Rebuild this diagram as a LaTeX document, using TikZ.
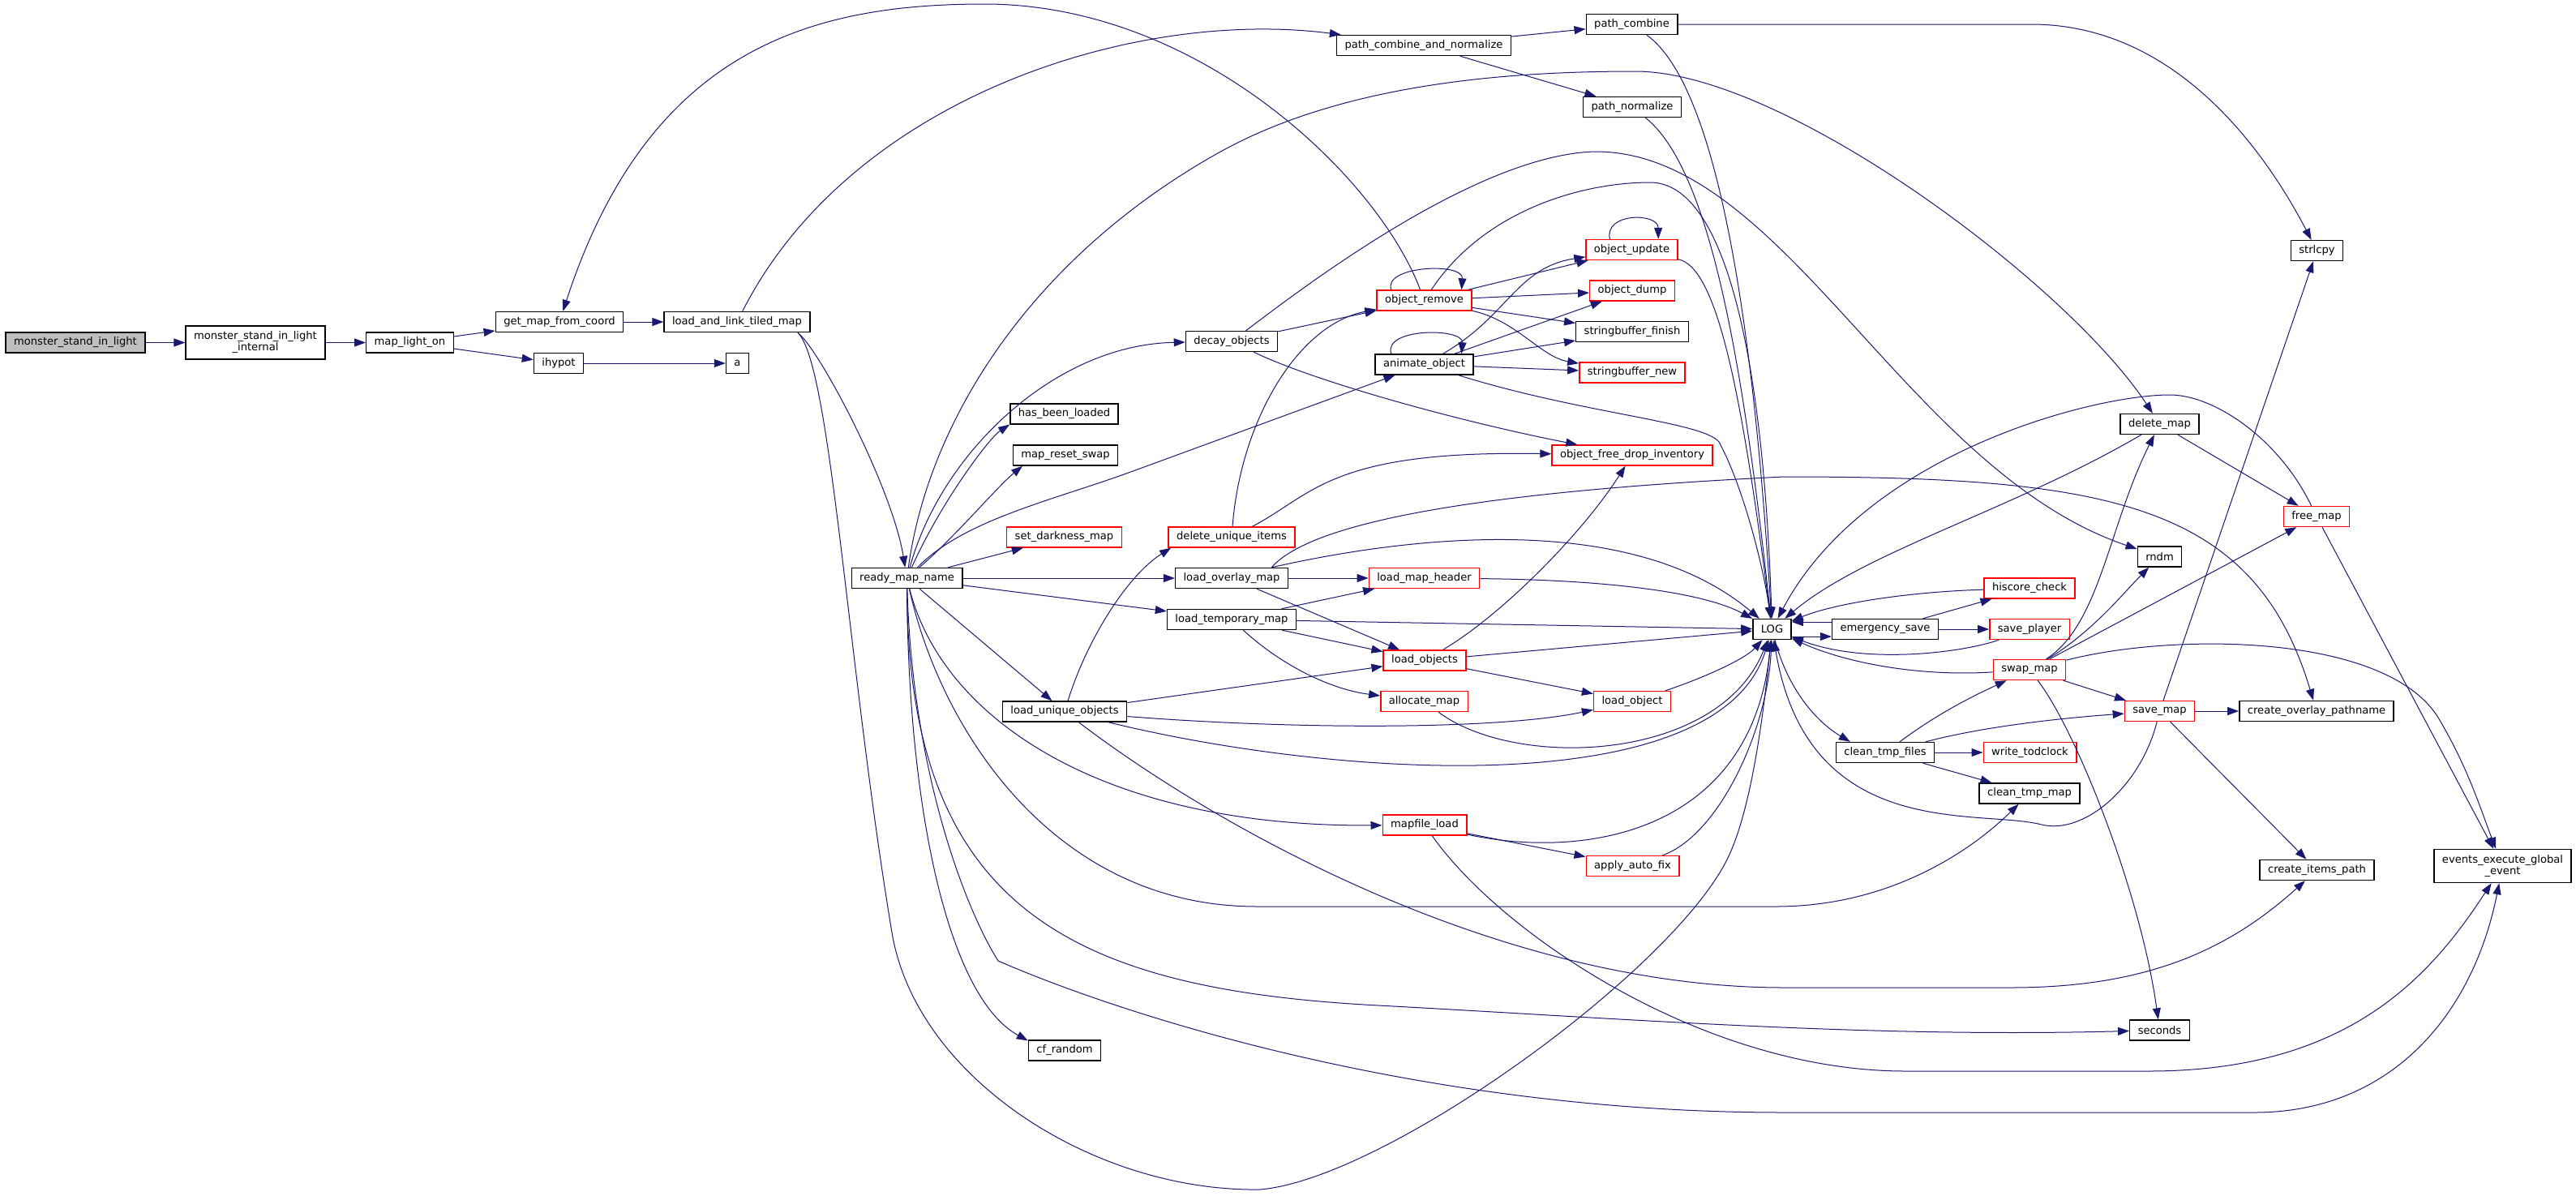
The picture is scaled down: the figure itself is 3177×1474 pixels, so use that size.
\documentclass[tikz,border=0pt]{standalone}
\usepackage{fontspec}
\setmainfont{DejaVu Sans}
\usepackage{tikz}
\usetikzlibrary{arrows.meta}
\definecolor{edgeblue}{HTML}{191970}
\definecolor{rootgray}{HTML}{BFBFBF}
\newcommand{\cgfont}{\fontsize{6.55}{7}\selectfont}
\tikzset{
  cgbox/.style={draw=black,line width=0.7pt,fill=white,rectangle,font=\cgfont,inner xsep=5pt,inner ysep=1.5pt,minimum height=12.5pt,align=center},
  cgred/.style={cgbox,draw=red},
  cgroot/.style={cgbox,fill=rootgray},
  call/.style={draw=edgeblue,line width=0.5pt,-{Triangle[length=7pt,width=5pt]}}
}
\newcommand{\cgnode}[4]{\node[#1] (#2) at (#3) {#4};}

\begin{document}
\begin{tikzpicture}[x=0.5pt,y=-0.5pt]
    \path[use as bounding box,fill=white] (0,0) rectangle (3177,1474);

    \cgnode{cgroot}{msl}{93,422.5}{monster\_stand\_in\_light}
    \cgnode{cgbox,minimum height=20.5pt}{msli}{315,422.5}{monster\_stand\_in\_light\\\_internal}
    \cgnode{cgbox}{mlo}{505.5,422.5}{map\_light\_on}
    \cgnode{cgbox}{gmfc}{690,397}{get\_map\_from\_coord}
    \cgnode{cgbox}{ihypot}{689,448}{ihypot}
    \cgnode{cgbox}{lltm}{909,397}{load\_and\_link\_tiled\_map}
    \cgnode{cgbox}{a}{909.5,448}{a}
    \cgnode{cgbox}{rmn}{1118.5,713}{ready\_map\_name}
    \cgnode{cgbox}{hbl}{1312.5,510.5}{has\_been\_loaded}
    \cgnode{cgbox}{mrs}{1314,561.5}{map\_reset\_swap}
    \cgnode{cgred}{sdm}{1312.5,662.5}{set\_darkness\_map}
    \cgnode{cgbox}{luo}{1313,877.5}{load\_unique\_objects}
    \cgnode{cgbox}{cfr}{1313,1295.5}{cf\_random}
    \cgnode{cgbox}{dec}{1519,421}{decay\_objects}
    \cgnode{cgred}{dui}{1519,662.5}{delete\_unique\_items}
    \cgnode{cgbox}{lom}{1519,713}{load\_overlay\_map}
    \cgnode{cgbox}{ltm}{1519,764}{load\_temporary\_map}
    \cgnode{cgbox}{pcan}{1756,56}{path\_combine\_and\_normalize}
    \cgnode{cgred}{orm}{1756.5,370.5}{object\_remove}
    \cgnode{cgbox}{ao}{1756.5,449.5}{animate\_object}
    \cgnode{cgred}{lmh}{1756.5,713}{load\_map\_header}
    \cgnode{cgred}{lobjs}{1757,814.5}{load\_objects}
    \cgnode{cgred}{am}{1756.5,865}{allocate\_map}
    \cgnode{cgred}{mfl}{1757,1017.5}{mapfile\_load}
    \cgnode{cgbox}{pc}{2012.5,30}{path\_combine}
    \cgnode{cgbox}{pn}{2013,132}{path\_normalize}
    \cgnode{cgred}{ou}{2012.5,308}{object\_update}
    \cgnode{cgred}{od}{2013,358.5}{object\_dump}
    \cgnode{cgbox}{sbf}{2013,409}{stringbuffer\_finish}
    \cgnode{cgred}{sbn}{2013,459.5}{stringbuffer\_new}
    \cgnode{cgred}{ofdi}{2013,561.5}{object\_free\_drop\_inventory}
    \cgnode{cgred}{lobj}{2013,865}{load\_object}
    \cgnode{cgred}{aaf}{2013.5,1068}{apply\_auto\_fix}
    \cgnode{cgbox}{lg}{2185.5,776}{LOG}
    \cgnode{cgbox}{es}{2325,776}{emergency\_save}
    \cgnode{cgbox}{ctf}{2325,928}{clean\_tmp\_files}
    \cgnode{cgred}{hc}{2503,725.5}{hiscore\_check}
    \cgnode{cgred}{sp}{2503,776}{save\_player}
    \cgnode{cgred}{sm}{2503,826}{swap\_map}
    \cgnode{cgred}{wt}{2503.5,928}{write\_todclock}
    \cgnode{cgbox}{ctm}{2503,978.5}{clean\_tmp\_map}
    \cgnode{cgbox}{dm}{2663.5,523}{delete\_map}
    \cgnode{cgbox}{rndm}{2663.5,686.5}{rndm}
    \cgnode{cgred}{svm}{2663.5,877}{save\_map}
    \cgnode{cgbox}{sec}{2663.5,1270.5}{seconds}
    \cgnode{cgbox}{strlcpy}{2857.5,309}{strlcpy}
    \cgnode{cgred}{fm}{2857,637}{free\_map}
    \cgnode{cgbox}{cop}{2857,877}{create\_overlay\_pathname}
    \cgnode{cgbox}{cip}{2857.5,1073}{create\_items\_path}
    \cgnode{cgbox,minimum height=20.5pt}{eeg}{3086.5,1068}{events\_execute\_global\\\_event}

    \draw[call] (msl) -- (msli);
    \draw[call] (msli) -- (mlo);
    \draw[call] (mlo) -- (gmfc);
    \draw[call] (mlo) -- (ihypot);
    \draw[call] (ihypot) -- (a);
    \draw[call] (gmfc) -- (lltm);
    \draw[call] (lltm) .. controls (1050,120) and (1400,10) .. (pcan);
    \draw[call] (lltm.350) .. controls (1010,430) and (1100,600) .. (rmn);
    \draw[call] (lltm.350) .. controls (1025,450) and (1045,820) .. (1100,1150) .. controls (1130,1330) and (1350,1470) .. (1554,1467) .. controls (1708,1454) and (2060,1200) .. (2130,1060) .. controls (2160,1000) and (2175,880) .. (lg);
    \draw[call] (orm) .. controls (1700,220) and (1480,5) .. (1214,5) .. controls (1000,5) and (800,60) .. (gmfc);

    \draw[call] (rmn) .. controls (1160,560) and (1300,425) .. (dec);
    \draw[call] (rmn) .. controls (1160,620) and (1220,540) .. (hbl.191);
    \draw[call] (rmn) .. controls (1180,660) and (1230,600) .. (mrs.194);
    \draw[call] (rmn) -- (sdm);
    \draw[call] (rmn) -- (lom);
    \draw[call] (rmn) -- (ltm);
    \draw[call] (rmn) -- (luo);
    \draw[call] (rmn) .. controls (1190,640) and (1300,617) .. (1400,580) -- (ao);
    \draw[call] (rmn) .. controls (1145,520) and (1270,320) .. (1500,190) .. controls (1650,105) and (1850,88) .. (2017,88) .. controls (2200,88) and (2550,350) .. (dm);
    \draw[call] (rmn) .. controls (1120,1000) and (1170,1230) .. (cfr.165);
    \draw[call] (rmn) .. controls (1125,950) and (1190,1120) .. (1231,1185) .. controls (1380,1250) and (1750,1372) .. (2200,1372) -- (2780,1372) .. controls (2950,1372) and (3050,1250) .. (eeg);
    \draw[call] (rmn) .. controls (1120,1120) and (1320,1220) .. (1700,1240) .. controls (2000,1256) and (2300,1280) .. (sec);
    \draw[call] (rmn) .. controls (1160,900) and (1300,1118) .. (1550,1118) -- (2190,1118) .. controls (2330,1118) and (2430,1050) .. (ctm);
    \draw[call] (rmn) .. controls (1160,880) and (1350,1020) .. (mfl);

    \draw[call] (dec) -- (orm);
    \draw[call] (dec) .. controls (1620,470) and (1800,520) .. (ofdi);
    \draw[call] (dec) .. controls (1600,360) and (1820,190) .. (1968,187) .. controls (2200,187) and (2350,580) .. (rndm);

    \draw[call] (orm.162) .. controls (1705,328) and (1805,323) .. (orm.16);
    \draw[call] (orm) -- (ou);
    \draw[call] (orm) -- (od);
    \draw[call] (orm) -- (sbf);
    \draw[call] (orm) .. controls (1870,395) and (1900,440) .. (sbn);
    \draw[call] (orm) .. controls (1830,260) and (1950,225) .. (2035,225) .. controls (2130,225) and (2175,450) .. (lg);

    \draw[call] (ao.162) .. controls (1705,404) and (1805,404) .. (ao.16);
    \draw[call] (ao) .. controls (1860,390) and (1870,330) .. (ou);
    \draw[call] (ao) -- (od);
    \draw[call] (ao) -- (sbf);
    \draw[call] (ao) -- (sbn);
    \draw[call] (ao) .. controls (1950,510) and (2100,520) .. (2120,545) .. controls (2150,600) and (2175,700) .. (lg);

    \draw[call] (ou.154) .. controls (1978,262) and (2045,262) .. (ou.22);
    \draw[call] (ou) .. controls (2120,330) and (2150,500) .. (lg);

    \draw[call] (pcan) -- (pc);
    \draw[call] (pcan) -- (pn);
    \draw[call] (pc.east) -- (2505,30) .. controls (2680,30) and (2790,180) .. (strlcpy);
    \draw[call] (pc) .. controls (2110,100) and (2160,350) .. (lg);
    \draw[call] (pn) .. controls (2110,210) and (2150,450) .. (lg);

    \draw[call] (dui) .. controls (1530,520) and (1600,400) .. (orm);
    \draw[call] (dui) .. controls (1620,610) and (1640,555) .. (ofdi);

    \draw[call] (lom) -- (lmh);
    \draw[call] (lom) -- (lobjs);
    \draw[call] (lom.15) .. controls (1700,670) and (2000,620) .. (lg);
    \draw[call] (lom.15) .. controls (1620,640) and (1850,605) .. (2200,588) .. controls (2600,588) and (2780,620) .. (cop);
    \draw[call] (lmh) .. controls (1980,715) and (2100,730) .. (lg);

    \draw[call] (ltm) -- (lmh);
    \draw[call] (ltm) -- (lobjs);
    \draw[call] (ltm) .. controls (1580,820) and (1640,850) .. (am);
    \draw[call] (ltm) -- (lg);

    \draw[call] (lobjs) .. controls (1850,760) and (1950,660) .. (ofdi);
    \draw[call] (lobjs) -- (lg);
    \draw[call] (lobjs) -- (lobj);
    \draw[call] (lobj) .. controls (2090,840) and (2150,815) .. (lg);
    \draw[call] (am) .. controls (1870,950) and (2120,940) .. (lg);

    \draw[call] (luo) -- (lobjs);
    \draw[call] (luo) .. controls (1600,900) and (1850,900) .. (lobj);
    \draw[call] (luo) .. controls (1340,790) and (1390,710) .. (dui.190);
    \draw[call] (luo) .. controls (1650,960) and (2120,990) .. (lg);
    \draw[call] (luo) .. controls (1500,1020) and (1850,1218) .. (2200,1218) -- (2480,1218) .. controls (2650,1218) and (2750,1170) .. (cip);

    \draw[call] (mfl) -- (aaf);
    \draw[call] (mfl) .. controls (1950,1060) and (2160,1030) .. (lg);
    \draw[call] (aaf) .. controls (2120,1030) and (2180,900) .. (lg);
    \draw[call] (mfl) .. controls (1850,1150) and (2100,1321) .. (2350,1321) -- (2650,1321) .. controls (2900,1321) and (3000,1200) .. (eeg);

    \draw[call] ([yshift=4.5pt]es.west) -- ([yshift=4.5pt]lg.east);
    \draw[call] ([yshift=-4.5pt]lg.east) -- ([yshift=-4.5pt]es.west);
    \draw[call] (es) -- (hc);
    \draw[call] (es) -- (sp);
    \draw[call] (hc) .. controls (2350,730) and (2260,745) .. (lg);
    \draw[call] (sp) .. controls (2420,805) and (2300,820) .. (lg);
    \draw[call] (lg) .. controls (2205,850) and (2240,890) .. (ctf.163);
    \draw[call] (ctf) .. controls (2390,880) and (2430,860) .. (sm);
    \draw[call] (ctf) .. controls (2450,895) and (2550,885) .. (svm);
    \draw[call] (ctf) -- (wt);
    \draw[call] (ctf) -- (ctm);

    \draw[call] (dm) .. controls (2480,630) and (2300,680) .. (lg);
    \draw[call] (dm) -- (fm);
    \draw[call] (fm) .. controls (2810,540) and (2730,487) .. (2676,487) .. controls (2580,487) and (2300,560) .. (lg);
    \draw[call] (fm) -- (eeg);

    \draw[call] (sm) .. controls (2680,780) and (2950,780) .. (3010,890) .. controls (3045,950) and (3060,1000) .. (eeg);
    \draw[call] (sm) .. controls (2590,770) and (2600,650) .. (dm);
    \draw[call] (sm) .. controls (2580,780) and (2620,730) .. (rndm);
    \draw[call] (sm) -- (fm);
    \draw[call] (sm) .. controls (2360,835) and (2270,815) .. (lg);
    \draw[call] (sm) -- (svm);
    \draw[call] (sm) .. controls (2560,900) and (2640,1100) .. (sec);

    \draw[call] (svm) -- (cop);
    \draw[call] (svm) -- (cip);
    \draw[call] (svm) -- (strlcpy);
    \draw[call] (svm) .. controls (2640,970) and (2570,1030) .. (2518,1017) .. controls (2440,997) and (2230,1040) .. (lg);
\end{tikzpicture}
\end{document}
